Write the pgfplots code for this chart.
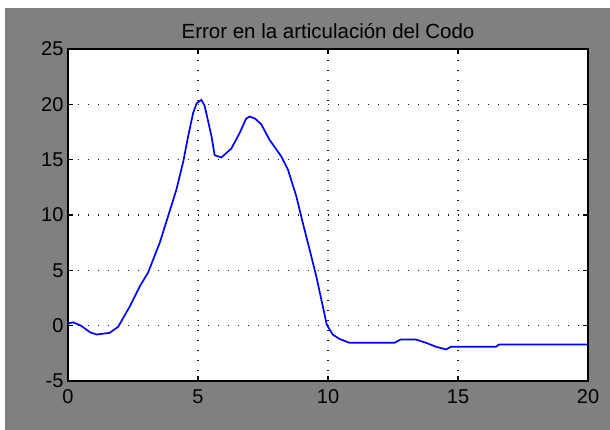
\documentclass[border=0pt]{standalone}
\usepackage{fontspec}
\setmainfont{Liberation Sans}
\usepackage{pgfplots}
\pgfplotsset{compat=1.18}
\definecolor{figgray}{RGB}{128,128,128}
\definecolor{mblue}{RGB}{0,0,255}
\begin{document}
\begin{tikzpicture}[x=1pt,y=1pt]
\fill[white] (0,0) rectangle (610,430);
\fill[figgray] (5,0) rectangle (610,422);
\useasboundingbox (0,0) rectangle (610,430);
\begin{axis}[
  at={(68pt,49pt)}, anchor=south west,
  scale only axis, width=520pt, height=332pt,
  xmin=0, xmax=20, ymin=-5, ymax=25,
  xtick={0,5,10,15,20}, ytick={-5,0,5,10,15,20,25},
  xticklabels={0,5,10,15,20},
  yticklabels={-5,0,5,10,15,20,25},
  axis background/.style={fill=white},
  axis line style={black, line width=1.3pt},
  tick style={black, line width=1.1pt},
  tick align=inside, major tick length=5pt,
  xtick pos=both, ytick pos=both,
  grid=major,
  major grid style={black!90, line width=1.3pt, dash pattern=on 1.3pt off 8.7pt},
  ticklabel style={font=\fontsize{20}{22}\selectfont, text=black},
  xticklabel style={yshift=-5pt},
  yticklabel style={xshift=-1pt},
  title={Error en la articulación del Codo},
  title style={font=\fontsize{20.5}{22}\selectfont, yshift=1pt},
]
\addplot[mblue, line width=1.7pt] coordinates {
(0,0.2) (0.2,0.3) (0.5,0.0) (0.85,-0.6) (1.1,-0.8) (1.6,-0.65) (1.93,-0.1)
(2.38,1.75) (2.76,3.55) (3.08,4.8) (3.53,7.5) (3.85,9.9) (4.17,12.3)
(4.43,14.8) (4.62,17.1) (4.81,19.2) (4.95,20.1) (5.13,20.4) (5.25,19.9) (5.32,19.2)
(5.52,17.1) (5.64,15.4) (5.9,15.2) (6.28,16.0) (6.6,17.4) (6.85,18.7) (6.99,18.9)
(7.2,18.7) (7.43,18.2) (7.75,16.8) (8.2,15.3) (8.46,14.1) (8.78,11.7)
(9.03,9.3) (9.29,6.9) (9.55,4.45) (9.8,1.75) (9.95,0.1) (10.18,-0.8)
(10.44,-1.2) (10.83,-1.55) (12.55,-1.55) (12.8,-1.25) (13.38,-1.25)
(13.77,-1.55) (14.15,-1.9) (14.54,-2.15) (14.73,-1.9) (16.46,-1.9)
(16.58,-1.7) (20,-1.7)
};
\end{axis}
\end{tikzpicture}
\end{document}
